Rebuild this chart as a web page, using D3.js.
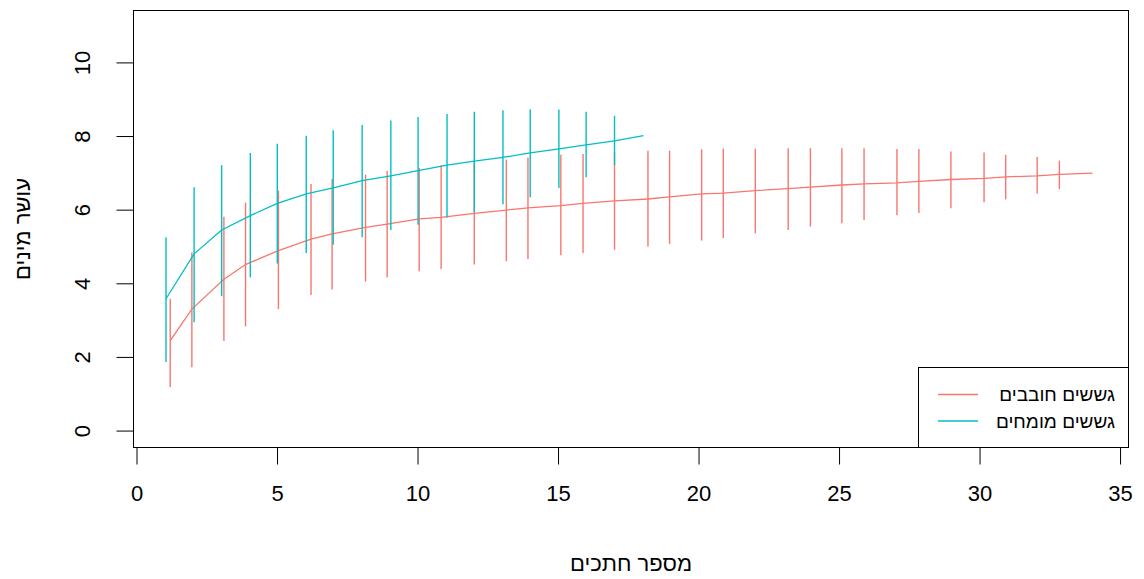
<!DOCTYPE html>
<html>
<head>
<meta charset="utf-8">
<script src="https://cdn.jsdelivr.net/npm/d3@7"></script>
<style>
  body { margin:0; background:#fff; }
  text { font-family: "Liberation Sans", Arial, sans-serif; fill:#000; }
</style>
</head>
<body>
<script>
// amateur trackers (red)
var amX    = [1.20,1.97,3.11,3.88,5.05,6.21,6.96,8.15,8.92,10.06,10.84,12.02,13.16,13.93,15.10,15.89,17.01,18.20,18.97,20.11,20.88,22.02,23.19,23.98,25.10,25.89,27.06,27.84,28.98,30.16,30.93,32.05,32.84,34.02];
var amMean = [2.44,3.30,4.11,4.51,4.89,5.20,5.34,5.52,5.61,5.75,5.79,5.90,5.99,6.05,6.11,6.17,6.24,6.29,6.35,6.43,6.45,6.52,6.57,6.61,6.67,6.70,6.73,6.77,6.82,6.85,6.89,6.92,6.96,6.99];
var amLow  = [1.18,1.72,2.43,2.83,3.30,3.68,3.83,4.05,4.16,4.33,4.39,4.51,4.60,4.66,4.76,4.82,4.91,5.00,5.07,5.16,5.23,5.36,5.45,5.54,5.63,5.72,5.85,5.91,6.04,6.20,6.28,6.44,6.56,6.99];
var amHigh = [3.58,4.84,5.81,6.19,6.52,6.70,6.83,6.95,7.05,7.13,7.21,7.29,7.36,7.42,7.49,7.51,7.57,7.60,7.60,7.64,7.66,7.66,7.67,7.67,7.67,7.67,7.65,7.65,7.58,7.55,7.49,7.43,7.33,6.99];

// expert trackers (cyan)
var exX    = [1.05,2.05,3.03,4.05,5.01,6.04,7.00,8.03,9.05,10.02,11.05,12.02,13.04,14.01,15.03,16.00,17.01,18.04];
var exMean = [3.58,4.80,5.45,5.84,6.17,6.43,6.59,6.79,6.92,7.06,7.21,7.32,7.42,7.54,7.65,7.76,7.87,8.01];
var exLow  = [1.86,2.94,3.65,4.16,4.54,4.82,5.05,5.25,5.45,5.59,5.79,5.93,6.15,6.34,6.59,6.88,7.21,8.01];
var exHigh = [5.25,6.61,7.21,7.54,7.79,8.01,8.16,8.30,8.42,8.52,8.60,8.66,8.70,8.73,8.72,8.66,8.55,8.01];

var xTicks = [0,5,10,15,20,25,30,35];
var yTicks = [0,2,4,6,8,10];
var legendLabels = ["גששים חובבים","גששים מומחים"];
var colors = ["#F8766D","#00BFC4"];

var W = 1144, H = 579;
var box = {left:133.5, right:1128.5, top:10.5, bottom:447.5};

var svg = d3.select("body").append("svg")
    .attr("width",W).attr("height",H);
svg.append("rect").attr("width",W).attr("height",H).attr("fill","#fff");

var x = d3.scaleLinear().domain([-0.107,35.3]).range([box.left,box.right]);
var y = d3.scaleLinear().domain([-0.46,11.41]).range([box.bottom,box.top]);

function series(xs,mean,low,high,col){
    var pts = xs.map(function(d,i){ return {x:d,m:mean[i],lo:low[i],hi:high[i]}; });
    var g = svg.append("g");
    g.selectAll("line.bar")
        .data(pts.filter(function(d){ return d.hi>d.lo; }))
        .enter().append("line")
        .attr("class","bar")
        .attr("x1",function(d){ return x(d.x); })
        .attr("x2",function(d){ return x(d.x); })
        .attr("y1",function(d){ return y(d.lo); })
        .attr("y2",function(d){ return y(d.hi); })
        .attr("stroke",col).attr("stroke-width",1.4);
    g.append("path")
        .datum(pts)
        .attr("fill","none")
        .attr("stroke",col).attr("stroke-width",1.3)
        .attr("d",d3.line().x(function(d){ return x(d.x); }).y(function(d){ return y(d.m); }));
}

series(amX,amMean,amLow,amHigh,colors[0]);
series(exX,exMean,exLow,exHigh,colors[1]);

// plot frame
svg.append("rect")
    .attr("x",box.left).attr("y",box.top)
    .attr("width",box.right-box.left).attr("height",box.bottom-box.top)
    .attr("fill","none").attr("stroke","#000").attr("stroke-width",1);

// x axis
var xa = svg.append("g").attr("transform","translate(0,"+box.bottom+")")
    .call(d3.axisBottom(x).tickValues(xTicks).tickSize(17).tickPadding(21).tickFormat(d3.format("d")));
xa.select(".domain").attr("d","M"+x(0)+",0H"+x(35));
xa.selectAll("text").attr("font-size","22px").attr("font-family","Liberation Sans, Arial, sans-serif");

// y axis
var ya = svg.append("g").attr("transform","translate("+box.left+",0)")
    .call(d3.axisLeft(y).tickValues(yTicks).tickSize(17).tickFormat(d3.format("d")));
ya.select(".domain").attr("d","M0,"+y(0)+"V"+y(10));
ya.selectAll(".tick text")
    .attr("x",0).attr("dy",null)
    .attr("text-anchor","middle")
    .attr("transform","translate(-51,0) rotate(-90)")
    .attr("dominant-baseline","central")
    .attr("font-size","22px").attr("font-family","Liberation Sans, Arial, sans-serif");

// axis titles
svg.append("text")
    .attr("x",(box.left+box.right)/2).attr("y",563)
    .attr("text-anchor","middle").attr("dominant-baseline","central")
    .attr("font-size","22px")
    .text("מספר חתכים");
svg.append("text")
    .attr("transform","translate(22,"+((box.top+box.bottom)/2)+") rotate(-90)")
    .attr("text-anchor","middle").attr("dominant-baseline","central")
    .attr("font-size","22px")
    .text("עושר מינים");

// legend
var lg = svg.append("g");
lg.append("rect")
    .attr("x",918.5).attr("y",367.5)
    .attr("width",box.right-918.5).attr("height",box.bottom-367.5)
    .attr("fill","#fff").attr("stroke","#000").attr("stroke-width",1);
legendLabels.forEach(function(lab,i){
    var ly = 394.5 + i*26.5;
    lg.append("line")
        .attr("x1",938).attr("x2",978).attr("y1",ly).attr("y2",ly)
        .attr("stroke",colors[i]).attr("stroke-width",1.3);
    lg.append("text")
        .attr("x",1115).attr("y",ly)
        .attr("text-anchor","end").attr("direction","ltr")
        .attr("dominant-baseline","central")
        .attr("font-size","19px")
        .text(lab);
});
</script>
</body>
</html>
